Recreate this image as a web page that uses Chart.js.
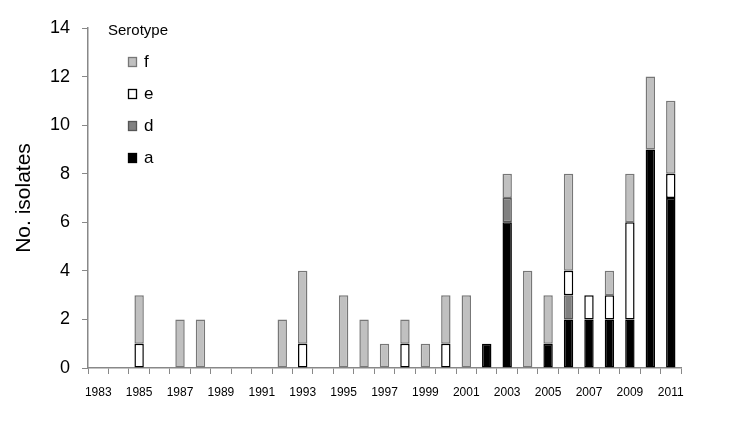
<!DOCTYPE html>
<html>
<head>
<meta charset="utf-8">
<script src="https://cdn.jsdelivr.net/npm/chart.js@4/dist/chart.umd.min.js"></script>
<style>
  body { margin: 0; background: #fff; }
  canvas { display: block; }
</style>
</head>
<body>
<canvas id="isolatesChart" width="750" height="442"></canvas>
<script>
// Data (stack order bottom -> top: a, d, e, f)
const years = [];
for (let y = 1983; y <= 2011; y++) years.push(String(y));

const serotypeA = [0,0,0,0,0,0,0,0,0,0,0,0,0,0,0,0,0,0,0,1,6,0,1,2,2,2,2,9,7];
const serotypeD = [0,0,0,0,0,0,0,0,0,0,0,0,0,0,0,0,0,0,0,0,1,0,0,1,0,0,0,0,0];
const serotypeE = [0,0,1,0,0,0,0,0,0,0,1,0,0,0,0,1,0,1,0,0,0,0,0,1,1,1,4,0,1];
const serotypeF = [0,0,2,0,2,2,0,0,0,2,3,0,3,2,1,1,1,2,3,0,1,4,2,4,0,1,2,3,3];
const yTicks = [0, 2, 4, 6, 8, 10, 12, 14];

const font = "'Liberation Sans', Arial, sans-serif";

/*** Legend drawn inside the plot area ***/
const insideLegend = {
    id: "insideLegend",
    afterDraw(chart) {
        const ctx = chart.ctx;
        ctx.save();
        ctx.fillStyle = "#000";
        ctx.textBaseline = "middle";
        ctx.textAlign = "left";
        ctx.font = "15px " + font;
        ctx.fillText("Serotype", 108, 31);
        ctx.font = "17px " + font;
        const items = chart.data.datasets.slice().reverse();
        items.forEach((ds, i) => {
            const cy = 62 + i * 32;
            ctx.fillStyle = ds.backgroundColor;
            ctx.fillRect(128.5, cy - 4.5, 8, 9);
            ctx.strokeStyle = ds.borderColor;
            ctx.lineWidth = 1.3;
            ctx.strokeRect(128.5, cy - 4.5, 8, 9);
            ctx.fillStyle = "#000";
            ctx.fillText(ds.label, 144, cy);
        });
        ctx.restore();
    }
};

// zero counts are left out so no empty outline is drawn on the axis
const makeSet = (label, data, bg, border) => ({
    label,
    data: data.map(v => (v === 0 ? null : v)),
    backgroundColor: bg,
    borderColor: border,
    borderWidth: 1.5,
    borderSkipped: false,
    barPercentage: 0.46,
    categoryPercentage: 1.0
});

new Chart(document.getElementById("isolatesChart"), {
    type: "bar",
    data: {
        labels: years,
        datasets: [
            makeSet("a", serotypeA, "#000000", "#000000"),
            makeSet("d", serotypeD, "#808080", "#555555"),
            makeSet("e", serotypeE, "#ffffff", "#000000"),
            makeSet("f", serotypeF, "#c0c0c0", "#777777")
        ]
    },
    options: {
        responsive: false,
        animation: false,
        layout: { padding: { left: 0, top: 28, right: 69, bottom: 0 } },
        plugins: { legend: { display: false }, tooltip: { enabled: false } },
        scales: {
            x: {
                stacked: true,
                afterFit(scale) { scale.height = 74; },
                grid: { drawOnChartArea: false, drawTicks: true, tickLength: 6, color: "#888", offset: true },
                border: { color: "#888", width: 1.5 },
                ticks: {
                    autoSkip: false, maxRotation: 0, padding: 11,
                    color: "#000", font: { family: font, size: 12 },
                    callback: (v, i) => (i % 2 === 0 ? years[i] : "")
                }
            },
            y: {
                stacked: true,
                min: 0, max: 14,
                afterFit(scale) { scale.width = 88; },
                afterBuildTicks(scale) { scale.ticks = yTicks.map(v => ({ value: v })); },
                grid: { drawOnChartArea: false, drawTicks: true, tickLength: 6, color: "#888" },
                border: { color: "#888", width: 1.5 },
                ticks: { padding: 12, color: "#000", font: { family: font, size: 18 } },
                title: {
                    display: true, text: "No. isolates", color: "#000",
                    font: { family: font, size: 21 }, padding: { top: 12, bottom: 0 }
                }
            }
        }
    },
    plugins: [insideLegend]
});
</script>
</body>
</html>
